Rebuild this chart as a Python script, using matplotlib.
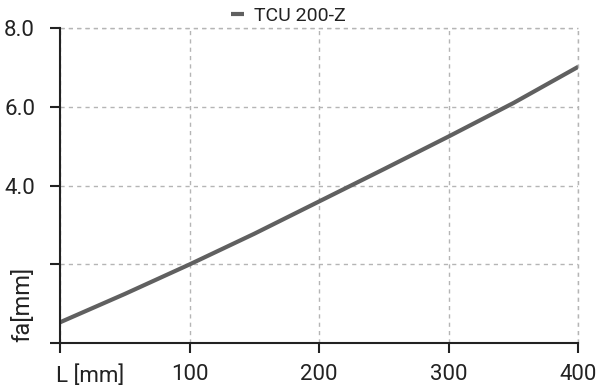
import matplotlib.pyplot as plt
from matplotlib.transforms import blended_transform_factory

plt.rcParams['font.family'] = ['Roboto', 'DejaVu Sans']

L = [0, 50, 100, 150, 200, 250, 300, 350, 400]
fa = [0.53, 1.25, 2.0, 2.78, 3.6, 4.42, 5.25, 6.1, 7.02]

fig = plt.figure(figsize=(6, 3.9), dpi=100)
ax = fig.add_axes([0.10, 0.12, 0.864, 0.808])

ax.plot(L, fa, color='#606060', lw=3, label='TCU 200-Z', solid_capstyle='butt')

ax.set_xlim(0, 400)
ax.set_ylim(0, 8)
ax.set_xticks([0, 100, 200, 300, 400])
ax.set_xticklabels(['', '100', '200', '300', '400'])
ax.set_yticks([0, 2, 4, 6, 8])
ax.set_yticklabels(['', '', '4.0', '6.0', '8.0'])
ax.tick_params(axis='both', direction='out', length=7, width=1.5, labelsize=16,
               colors='#222222')
ax.tick_params(axis='x', pad=8)
ax.tick_params(axis='y', pad=11)

for s in ['top', 'right']:
    ax.spines[s].set_visible(False)
for s in ['left', 'bottom']:
    ax.spines[s].set_linewidth(1.5)
    ax.spines[s].set_color('#222222')

ax.grid(True, color='#b5b5b5', linestyle=(0, (3, 3)), lw=1)
ax.axhline(8, color='#b5b5b5', linestyle=(0, (3, 3)), lw=1, clip_on=False)
ax.axvline(400, color='#b5b5b5', linestyle=(0, (3, 3)), lw=1, clip_on=False)

tx = blended_transform_factory(ax.transData, ax.transAxes)
ax.text(-3, -0.105, 'L [mm]', transform=tx, ha='left', va='center',
        fontsize=16, color='#222222')
ty = blended_transform_factory(ax.transAxes, ax.transData)
ax.text(-0.072, 0.98, 'fa[mm]', transform=ty, ha='center', va='center',
        rotation=90, fontsize=17, color='#222222')

leg = ax.legend(loc='lower center', bbox_to_anchor=(0.44, 0.98), frameon=False,
                fontsize=14, handlelength=0.7, handletextpad=0.5, borderpad=0)
for t in leg.get_texts():
    t.set_color('#222222')

fig.savefig('out.png', dpi=100)
